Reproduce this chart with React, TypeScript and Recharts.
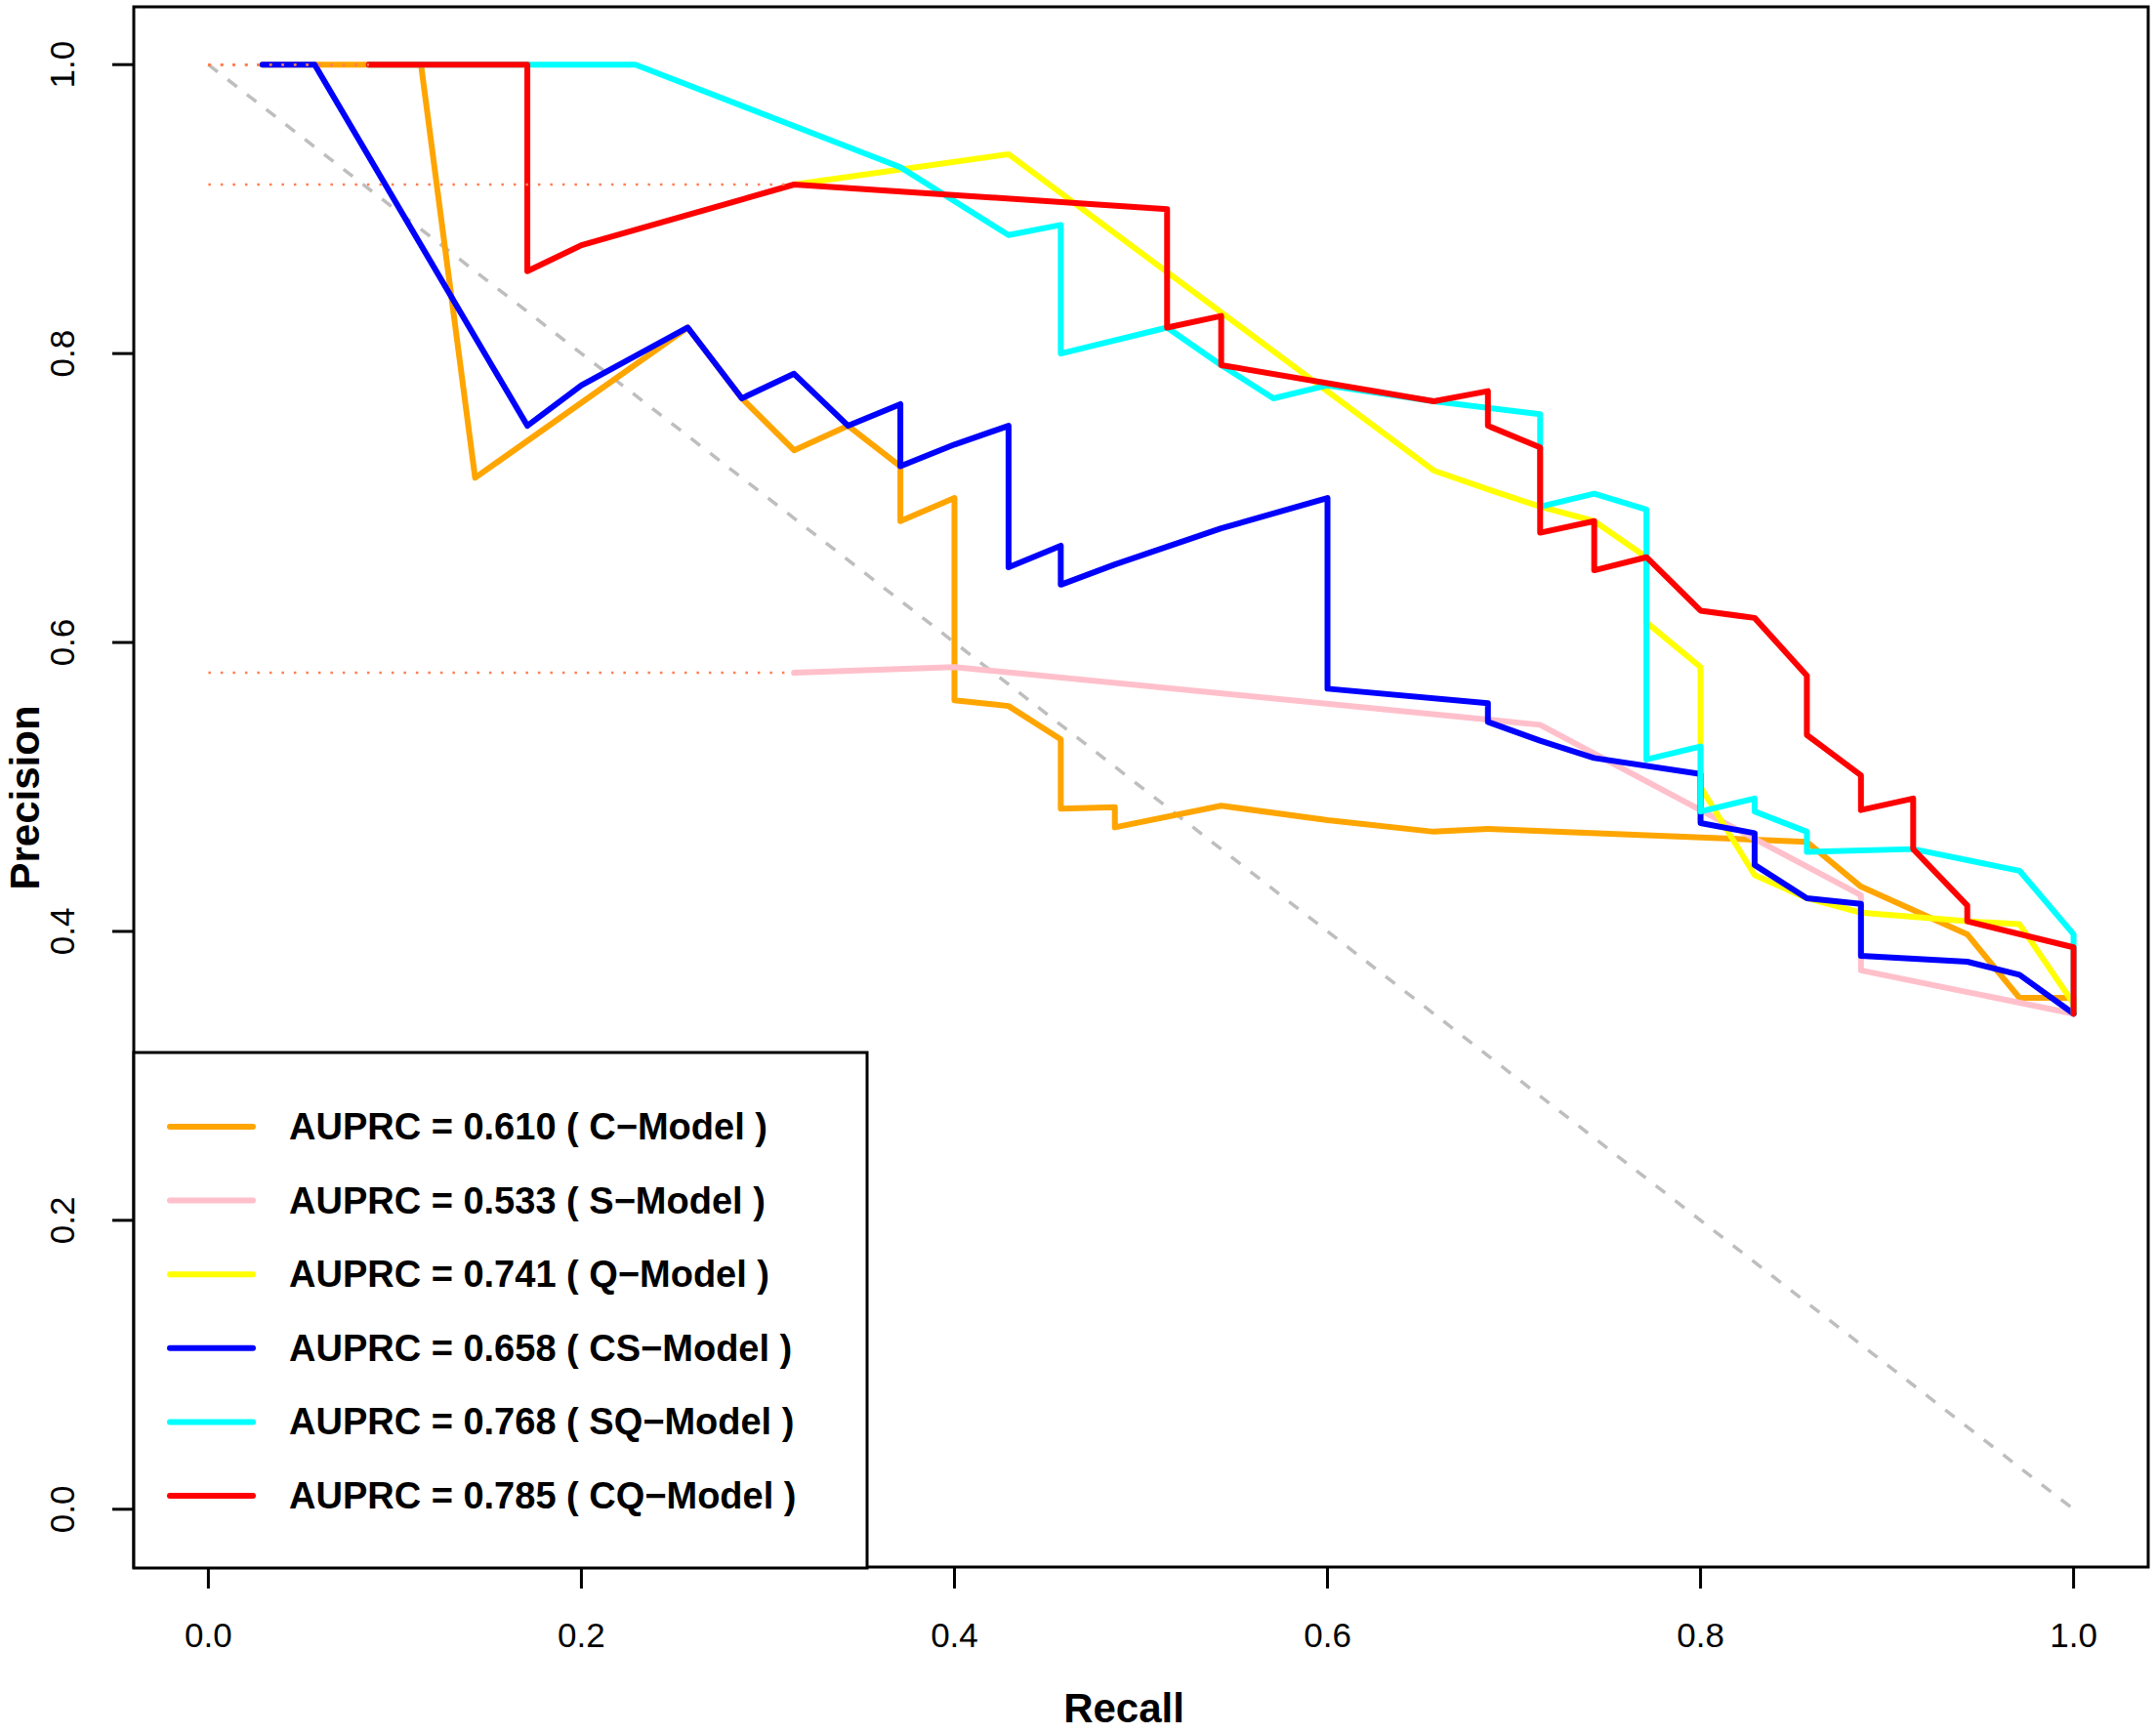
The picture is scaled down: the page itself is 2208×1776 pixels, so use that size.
import { LineChart, Line, XAxis, YAxis, ReferenceArea } from "recharts"

// recall / precision (35 positives)
const cRecall = [0.029, 0.114, 0.143, 0.257, 0.286, 0.314, 0.343, 0.371, 0.371, 0.4, 0.4, 0.429, 0.457, 0.457, 0.486, 0.486, 0.543, 0.6, 0.657, 0.686, 0.857, 0.886, 0.943, 0.971, 1, 1]
const cPrecision = [1, 1, 0.714, 0.818, 0.769, 0.733, 0.75, 0.722, 0.684, 0.7, 0.56, 0.556, 0.533, 0.485, 0.486, 0.472, 0.487, 0.477, 0.469, 0.471, 0.462, 0.431, 0.398, 0.354, 0.354, 0.343]

const sRecall = [0.314, 0.4, 0.714, 0.886, 0.886, 1]
const sPrecision = [0.579, 0.583, 0.543, 0.425, 0.373, 0.343]

const qRecall = [0.314, 0.429, 0.657, 0.686, 0.714, 0.743, 0.771, 0.771, 0.8, 0.8, 0.829, 0.857, 0.886, 0.943, 0.971, 1, 1]
const qPrecision = [0.917, 0.938, 0.719, 0.706, 0.694, 0.684, 0.659, 0.614, 0.583, 0.5, 0.439, 0.423, 0.413, 0.407, 0.405, 0.35, 0.343]

const csRecall = [0.029, 0.057, 0.171, 0.2, 0.257, 0.286, 0.314, 0.343, 0.371, 0.371, 0.4, 0.429, 0.429, 0.457, 0.457, 0.486, 0.543, 0.6, 0.6, 0.686, 0.686, 0.714, 0.743, 0.8, 0.8, 0.829, 0.829, 0.857, 0.886, 0.886, 0.943, 0.971, 1]
const csPrecision = [1, 1, 0.75, 0.778, 0.818, 0.769, 0.786, 0.75, 0.765, 0.722, 0.737, 0.75, 0.652, 0.667, 0.64, 0.654, 0.679, 0.7, 0.568, 0.558, 0.545, 0.532, 0.52, 0.509, 0.475, 0.468, 0.446, 0.423, 0.419, 0.383, 0.379, 0.37, 0.343]

const sqRecall = [0.086, 0.229, 0.371, 0.429, 0.457, 0.457, 0.514, 0.543, 0.571, 0.6, 0.657, 0.714, 0.714, 0.743, 0.771, 0.771, 0.8, 0.8, 0.829, 0.829, 0.857, 0.857, 0.914, 0.971, 1, 1]
const sqPrecision = [1, 1, 0.929, 0.882, 0.889, 0.8, 0.818, 0.792, 0.769, 0.778, 0.767, 0.758, 0.694, 0.703, 0.692, 0.519, 0.528, 0.483, 0.492, 0.483, 0.469, 0.455, 0.457, 0.442, 0.398, 0.343]

const cqRecall = [0.086, 0.171, 0.171, 0.2, 0.314, 0.514, 0.514, 0.543, 0.543, 0.657, 0.686, 0.686, 0.714, 0.714, 0.743, 0.743, 0.771, 0.8, 0.829, 0.857, 0.857, 0.886, 0.886, 0.914, 0.914, 0.943, 0.943, 1, 1]
const cqPrecision = [1, 1, 0.857, 0.875, 0.917, 0.9, 0.818, 0.826, 0.792, 0.767, 0.774, 0.75, 0.735, 0.676, 0.684, 0.65, 0.659, 0.622, 0.617, 0.577, 0.536, 0.508, 0.484, 0.492, 0.457, 0.418, 0.407, 0.389, 0.343]

const modelNames = ["C-Model", "S-Model", "Q-Model", "CS-Model", "SQ-Model", "CQ-Model"]
const auprc = ["0.610", "0.533", "0.741", "0.658", "0.768", "0.785"]
const colors = ["#FFA500", "#FFC0CB", "#FFFF00", "#0000FF", "#00FFFF", "#FF0000"]
const ticks = [0, 0.2, 0.4, 0.6, 0.8, 1]

const chance = [
  { x: 0, y: 1 },
  { x: 1, y: 0 },
]

const toPoints = (r: number[], p: number[]) => r.map((x, i) => ({ x, y: p[i] }))

const series = [
  toPoints(cRecall, cPrecision),
  toPoints(sRecall, sPrecision),
  toPoints(qRecall, qPrecision),
  toPoints(csRecall, csPrecision),
  toPoints(sqRecall, sqPrecision),
  toPoints(cqRecall, cqPrecision),
]

// dotted lead-in from recall 0 to each curve's first point
const leadIns = series.map((pts) => [
  { x: 0, y: pts[0].y },
  { x: pts[0].x, y: pts[0].y },
])

const FONT = "'Liberation Sans', Arial, Helvetica, sans-serif"

const XTick = (props: any) => {
  const { x, y, payload } = props
  return (
    <text x={x} y={y} dy={60} textAnchor="middle" fontSize={35} fontFamily={FONT} fill="#000">
      {payload.value.toFixed(1)}
    </text>
  )
}

const YTick = (props: any) => {
  const { x, y, payload } = props
  const bx = x - 39
  return (
    <text
      x={bx}
      y={y}
      textAnchor="middle"
      fontSize={35}
      fontFamily={FONT}
      fill="#000"
      transform={`rotate(-90, ${bx}, ${y})`}
    >
      {payload.value.toFixed(1)}
    </text>
  )
}

export default function App() {
  return (
    <div style={{ position: "absolute", left: 0, top: 0, width: 2208, height: 1776, background: "#fff" }}>
      <LineChart width={2208} height={1776} margin={{ top: 7, right: 8, left: 0, bottom: 0 }}>
        <XAxis
          type="number"
          dataKey="x"
          domain={[-0.04, 1.04]}
          ticks={ticks}
          axisLine={false}
          tickLine={{ stroke: "#000", strokeWidth: 3 }}
          tickSize={22}
          tickMargin={0}
          height={171}
          tick={<XTick />}
          allowDataOverflow
        />
        <YAxis
          type="number"
          dataKey="y"
          domain={[-0.04, 1.04]}
          ticks={ticks}
          axisLine={false}
          tickLine={{ stroke: "#000", strokeWidth: 3 }}
          tickSize={22}
          tickMargin={0}
          width={137}
          tick={<YTick />}
          allowDataOverflow
        />
        <Line
          data={chance}
          dataKey="y"
          stroke="#BEBEBE"
          strokeWidth={3.5}
          strokeDasharray="12 13"
          dot={false}
          activeDot={false}
          isAnimationActive={false}
        />
        {series.map((pts, i) => (
          <Line
            key={modelNames[i]}
            data={pts}
            dataKey="y"
            stroke={colors[i]}
            strokeWidth={6}
            strokeLinejoin="round"
            strokeLinecap="round"
            dot={false}
            activeDot={false}
            isAnimationActive={false}
          />
        ))}
        {leadIns.map((pts, i) => (
          <Line
            key={"lead" + i}
            data={pts}
            dataKey="y"
            stroke="#FF7F50"
            strokeWidth={2.5}
            strokeDasharray="2.5 10"
            dot={false}
            activeDot={false}
            isAnimationActive={false}
          />
        ))}
        <ReferenceArea x1={-0.04} x2={1.04} y1={-0.04} y2={1.04} fill="none" stroke="#000" strokeWidth={3} />
      </LineChart>

      <svg
        width={2208}
        height={1776}
        style={{ position: "absolute", left: 0, top: 0, pointerEvents: "none" }}
        fontFamily={FONT}
      >
        <rect x={137} y={1078} width={751} height={528} fill="#fff" stroke="#000" strokeWidth={3} />
        {modelNames.map((name, i) => {
          const yy = 1154 + i * 75.6
          return (
            <g key={name}>
              <line x1={174} x2={259} y1={yy} y2={yy} stroke={colors[i]} strokeWidth={6} strokeLinecap="round" />
              <text x={296} y={yy} dy={13} fontSize={38} fontWeight="bold" fill="#000">
                {`AUPRC = ${auprc[i]} ( ${name.replace("-", "\u2212")} )`}
              </text>
            </g>
          )
        })}
        <text x={1151} y={1764} textAnchor="middle" fontSize={42} fontWeight="bold" fill="#000">
          Recall
        </text>
        <text
          x={40}
          y={817}
          textAnchor="middle"
          fontSize={42}
          fontWeight="bold"
          fill="#000"
          transform="rotate(-90, 40, 817)"
        >
          Precision
        </text>
      </svg>
    </div>
  )
}
